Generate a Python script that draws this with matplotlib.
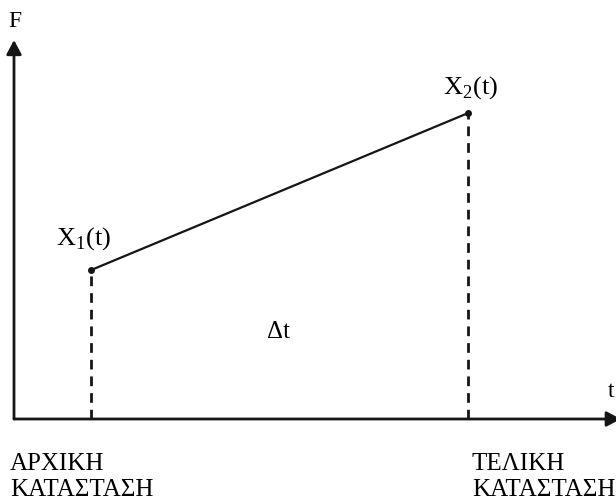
import matplotlib.pyplot as plt

plt.rcParams['font.family'] = ['Liberation Serif', 'DejaVu Serif']
plt.rcParams['mathtext.fontset'] = 'custom'
plt.rcParams['mathtext.rm'] = 'Liberation Serif'

# states: time and F value at start / end
t_states = [1.28, 7.54]
F_states = [3.93, 8.07]
point_labels = ['X$_{\\rm 1}$(t)', 'X$_{\\rm 2}$(t)']
state_names = ['ΑΡΧΙΚΗ\nΚΑΤΑΣΤΑΣΗ', 'ΤΕΛΙΚΗ\nΚΑΤΑΣΤΑΣΗ']
interval_label = 'Δt'

ink = '#151515'

fig = plt.figure(figsize=(6.16, 5.01), dpi=100)
ax = fig.add_axes([14 / 616, 82 / 501, 602 / 616, 379 / 501])
ax.set_xlim(0, 10)
ax.set_ylim(0, 10)
ax.axis('off')

arrow = dict(arrowstyle='-|>,head_length=0.85,head_width=0.45', lw=2, color=ink,
             shrinkA=0, shrinkB=0, mutation_scale=10)
# axes with arrows
ax.annotate('', xy=(0, 10), xytext=(0, 0), arrowprops=arrow, annotation_clip=False)
ax.annotate('', xy=(10.08, 0), xytext=(0, 0), arrowprops=arrow, annotation_clip=False)
ax.text(0.02, 10.5, 'F', fontsize=17, ha='center', va='center', color='black')
ax.text(9.92, 0.72, 't', fontsize=17, ha='center', va='center', color='black')

# line between the two states
ax.plot(t_states, F_states, color=ink, lw=1.6, marker='o', ms=4, clip_on=False)

# dashed drop lines
for t, F in zip(t_states, F_states):
    ax.plot([t, t], [0, F], color=ink, lw=2, ls=(0, (3.5, 2.5)))

ax.annotate(point_labels[0], (t_states[0], F_states[0]), xytext=(-25, 13),
            textcoords='offset points', fontsize=19, va='bottom', ha='left')
ax.annotate(point_labels[1], (t_states[1], F_states[1]), xytext=(-18, 9),
            textcoords='offset points', fontsize=19, va='bottom', ha='left')

ax.text(4.39, 2.3, interval_label, fontsize=18, ha='center', va='center')

fig.text(10 / 616, 1 - 453 / 501, state_names[0], fontsize=18, ha='left', va='top',
         linespacing=1.25)
fig.text(472 / 616, 1 - 453 / 501, state_names[1], fontsize=18, ha='left', va='top',
         linespacing=1.25)

fig.savefig('out.png', dpi=100)
